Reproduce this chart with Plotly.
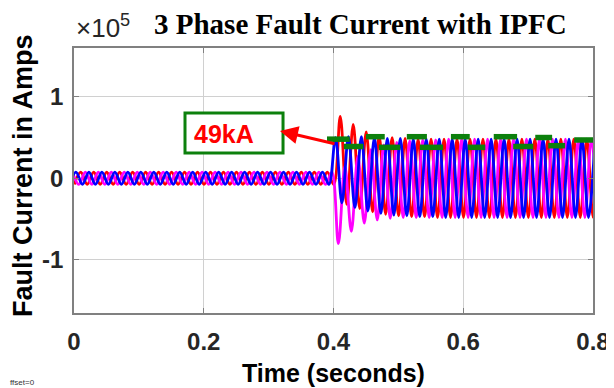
import numpy as np
import plotly.graph_objects as go

# ---------------- data ----------------
HALF_PERIOD_S = 0.01          # 50 Hz system, extrema every half cycle
x_ticks = [0, 0.2, 0.4, 0.6, 0.8]
x_tick_labels = ["0", "0.2", "0.4", "0.6", "0.8"]
y_ticks = [-100000, 0, 100000]
y_tick_labels = ["-1", "0", "1"]

# Phase B (blue): first extremum is a trough at -0.007 s
blue_first_t = -0.007
blue_troughs_kA = [-7.5, -7.5, -7.5, -7.5, -7.5, -7.5, -7.5, -7.5, -7.5, -7.5,
                   -7.5, -7.5, -7.5, -7.5, -7.5, -7.5, -7.5, -7.5, -7.5, -7.5,
                   -7.5,
                   -30, -36, -40, -43, -45, -46, -47, -47, -48, -48,
                   -48, -48, -48, -48, -48, -48, -48, -48, -48, -48]
blue_peaks_kA = [7.5, 7.5, 7.5, 7.5, 7.5, 7.5, 7.5, 7.5, 7.5, 7.5,
                 7.5, 7.5, 7.5, 7.5, 7.5, 7.5, 7.5, 7.5, 7.5, 7.5,
                 50, 51, 51, 50, 49, 49, 48, 48, 48, 48,
                 48, 48, 48, 48, 48, 48, 48, 48, 48, 48, 48]

# Phase A (red): first extremum is a trough at 0.0004 s
red_first_t = 0.0004
red_troughs_kA = [-7.5, -7.5, -7.5, -7.5, -7.5, -7.5, -7.5, -7.5, -7.5, -7.5,
                  -7.5, -7.5, -7.5, -7.5, -7.5, -7.5, -7.5, -7.5, -7.5, -7.5,
                  -7.5,
                  -32, -37, -41, -44, -46, -47, -47, -48, -48, -48,
                  -48, -48, -48, -48, -48, -48, -48, -48, -48, -48]
red_peaks_kA = [7.5, 7.5, 7.5, 7.5, 7.5, 7.5, 7.5, 7.5, 7.5, 7.5,
                7.5, 7.5, 7.5, 7.5, 7.5, 7.5, 7.5, 7.5, 7.5, 7.5,
                76, 66, 57, 52, 50, 49, 48, 48, 48, 48,
                48, 48, 48, 48, 48, 48, 48, 48, 48, 48, 48]

# Phase C (magenta): first extremum is a peak at -0.0025 s
magenta_first_t = -0.0025
magenta_peaks_kA = [7.5, 7.5, 7.5, 7.5, 7.5, 7.5, 7.5, 7.5, 7.5, 7.5,
                    7.5, 7.5, 7.5, 7.5, 7.5, 7.5, 7.5, 7.5, 7.5, 7.5,
                    7.5,
                    15, 27, 35, 41, 44, 46, 47, 47, 48, 48,
                    48, 48, 48, 48, 48, 48, 48, 48, 48, 48]
magenta_troughs_kA = [-7.5, -7.5, -7.5, -7.5, -7.5, -7.5, -7.5, -7.5, -7.5, -7.5,
                      -7.5, -7.5, -7.5, -7.5, -7.5, -7.5, -7.5, -7.5, -7.5, -7.5,
                      -80, -65, -55, -51, -49, -48, -48, -48, -48, -48,
                      -48, -48, -48, -48, -48, -48, -48, -48, -48, -48, -48]

# Green hand-drawn dashed envelope marker
green_start_s = [0.390, 0.416, 0.450, 0.470, 0.513, 0.533, 0.581, 0.607, 0.647, 0.677, 0.711, 0.731, 0.771]
green_end_s = [0.425, 0.446, 0.479, 0.503, 0.544, 0.569, 0.610, 0.634, 0.683, 0.708, 0.737, 0.757, 0.800]
green_level_kA = [48, 39, 51, 38, 51, 38, 51, 38, 51, 39, 50, 40, 47]

label_text = "49kA"


def wave(first_vals, second_vals, t_first):
    vals = []
    for a, b in zip(first_vals, second_vals):
        vals += [a, b]
    t = t_first + HALF_PERIOD_S * np.arange(len(vals))
    return t, np.array(vals) * 1000.0


fig = go.Figure()
LW = 2.8
for (fv, sv, t0, col) in [
    (red_troughs_kA, red_peaks_kA, red_first_t, "#ff0000"),
    (magenta_peaks_kA, magenta_troughs_kA, magenta_first_t, "#ff00ff"),
    (blue_troughs_kA, blue_peaks_kA, blue_first_t, "#0000ff"),
]:
    t, y = wave(fv, sv, t0)
    fig.add_trace(go.Scatter(x=t, y=y, mode="lines",
                             line=dict(color=col, width=LW, shape="spline", smoothing=1.0),
                             showlegend=False, hoverinfo="skip"))

gx, gy = [], []
for s, e, lv in zip(green_start_s, green_end_s, green_level_kA):
    gx += [s, e, None]
    gy += [lv * 1000.0, lv * 1000.0, None]
fig.add_trace(go.Scatter(x=gx, y=gy, mode="lines",
                         line=dict(color="#0c800c", width=5.5),
                         showlegend=False, hoverinfo="skip"))

AX_COL = "#808080"
TICK_FONT = dict(family="Liberation Sans, Arial", size=24, color="#262626", weight="bold")

# The page has an 8px body margin, so the figure is sized/offset to compensate.
W, H = 606, 380
PL, PR, PT, PB = 66, 21, 40, 75          # plot area in figure pixels: x 66..585, y 40..305
PW, PH = W - PL - PR, H - PT - PB


def px(xp):   # figure-pixel x -> paper x
    return (xp - PL) / PW


def py(yp):   # figure-pixel y -> paper y
    return (H - PB - yp) / PH


fig.update_layout(
    width=W, height=H,
    margin=dict(l=PL, r=PR, t=PT, b=PB, autoexpand=False),
    paper_bgcolor="white", plot_bgcolor="white",
    xaxis=dict(range=[0, 0.8], tickvals=x_ticks, ticktext=x_tick_labels,
               showgrid=True, gridcolor="#d0d0d0", gridwidth=1,
               zeroline=False, showline=True, mirror="ticks",
               linecolor=AX_COL, linewidth=1.5,
               ticks="inside", ticklen=5, tickcolor=AX_COL,
               tickfont=TICK_FONT, ticklabelstandoff=6, automargin=False),
    yaxis=dict(range=[-165000, 159700], tickvals=y_ticks, ticktext=y_tick_labels,
               showgrid=True, gridcolor="#d0d0d0", gridwidth=1,
               zeroline=False, showline=True, mirror="ticks",
               linecolor=AX_COL, linewidth=1.5,
               ticks="inside", ticklen=5, tickcolor=AX_COL,
               tickfont=TICK_FONT, ticklabelstandoff=4, automargin=False),
)

# box around the 49kA label
fig.add_shape(type="rect", xref="x", yref="y",
              x0=0.1711, x1=0.3222, y0=31000, y1=80000,
              line=dict(color="#0c800c", width=3), fillcolor="white", layer="above")
fig.add_annotation(x=0.182, y=54000, xref="x", yref="y", text=label_text,
                   showarrow=False, xanchor="left", yanchor="middle",
                   font=dict(family="Liberation Sans, Arial", size=25, color="#ff0000", weight="bold"))
# red arrow pointing at the box
fig.add_annotation(x=0.3175, y=58000, ax=0.4039, ay=42000,
                   xref="x", yref="y", axref="x", ayref="y",
                   text="", showarrow=True, arrowhead=2, arrowsize=1.2,
                   arrowwidth=3, arrowcolor="#ff0000")

# title and exponent (page coords minus 8px body margin)
fig.add_annotation(x=px(360 - 8), y=py(24 - 8), xref="paper", yref="paper",
                   text="<b>3 Phase Fault Current with IPFC</b>", showarrow=False,
                   xanchor="center", yanchor="middle",
                   font=dict(family="Liberation Serif, Times New Roman", size=29, color="#000000"))
fig.add_annotation(x=px(74 - 8), y=py(26 - 8), xref="paper", yref="paper",
                   text="×10<sup>5</sup>", showarrow=False,
                   xanchor="left", yanchor="middle",
                   font=dict(family="Liberation Sans, Arial", size=26, color="#262626"))
# axis titles
fig.add_annotation(x=0.5, y=py(373 - 8), xref="paper", yref="paper",
                   text="Time (seconds)", showarrow=False,
                   xanchor="center", yanchor="middle",
                   font=dict(family="Liberation Sans, Arial", size=25, color="#000000", weight="bold"))
fig.add_annotation(x=px(23 - 8), y=py(176 - 8), xref="paper", yref="paper",
                   text="Fault Current in Amps", showarrow=False, textangle=-90,
                   xanchor="center", yanchor="middle",
                   font=dict(family="Liberation Sans, Arial", size=27, color="#000000", weight="bold"))
fig.add_annotation(x=px(0), y=py(382 - 8), xref="paper", yref="paper",
                   text="ffset=0", showarrow=False,
                   xanchor="left", yanchor="middle",
                   font=dict(family="Liberation Sans, Arial", size=8, color="#333333"))

fig.write_html("out.html")
